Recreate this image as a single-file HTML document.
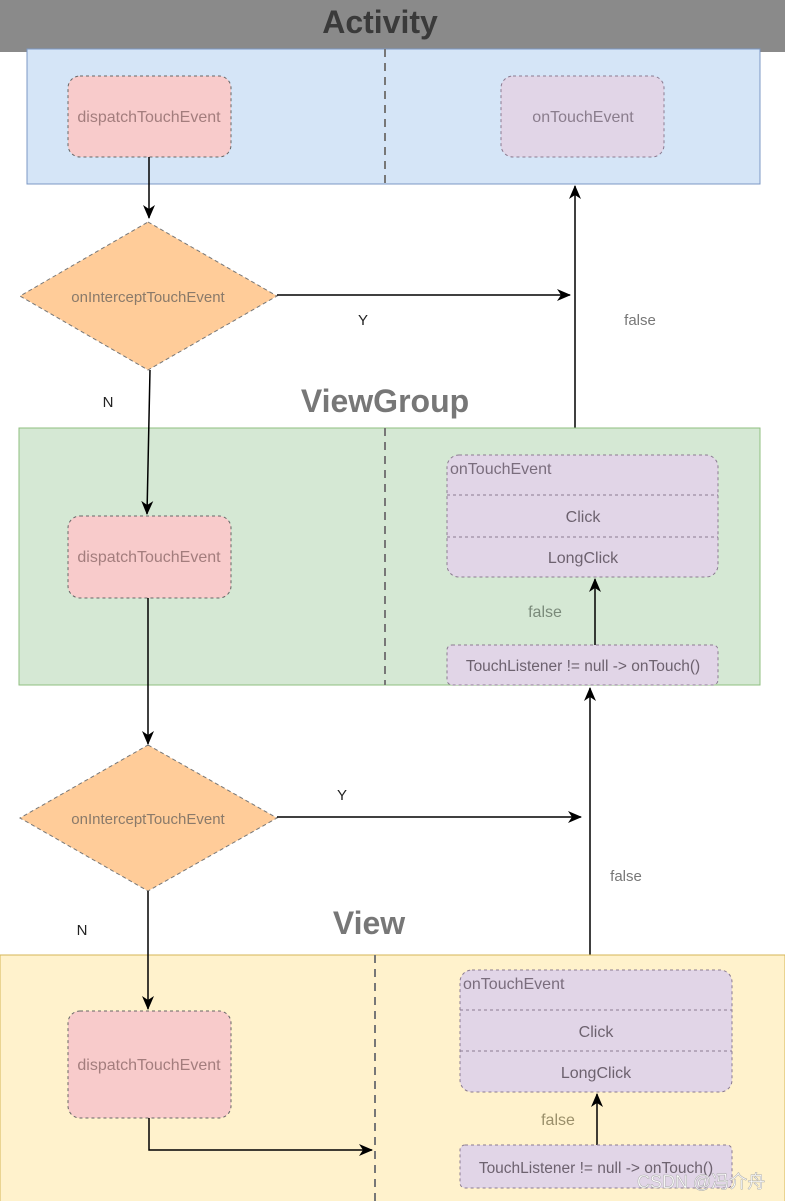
<!DOCTYPE html>
<html><head><meta charset="utf-8"><style>
html,body{margin:0;padding:0;background:#fff;}
svg{display:block;}
text{font-family:"Liberation Sans","Noto Sans CJK SC",sans-serif;}
</style></head><body>
<svg width="785" height="1201" viewBox="0 0 785 1201" xmlns="http://www.w3.org/2000/svg">
<defs>
<marker id="a" markerWidth="14" markerHeight="14" refX="13" refY="7" orient="auto" markerUnits="userSpaceOnUse">
<path d="M0,1 L14,7 L0,13 L4,7 Z" fill="#000"/></marker>
</defs>
<rect x="0" y="0" width="785" height="52" fill="#8a8a8a"/>
<text x="380" y="33" font-size="32" font-weight="bold" fill="#3a3a3a" text-anchor="middle">Activity</text>
<rect x="27" y="49" width="733" height="135" fill="#d5e5f7" stroke="#7c98c4"/>
<line x1="385" y1="49" x2="385" y2="184" stroke="#777" stroke-width="2" stroke-dasharray="8,6"/>
<rect x="68" y="76" width="163" height="81" rx="12" fill="#f8cbcb" stroke="#666" stroke-dasharray="3,3"/>
<text x="149" y="122" font-size="16" fill="#a37d7d" text-anchor="middle">dispatchTouchEvent</text>
<rect x="501" y="76" width="163" height="81" rx="12" fill="#e1d5e7" stroke="#8a7a90" stroke-dasharray="3,3"/>
<text x="583" y="122" font-size="16" fill="#8a7d8d" text-anchor="middle">onTouchEvent</text>
<line x1="149" y1="157" x2="149" y2="218" stroke="#000" stroke-width="1.5" marker-end="url(#a)"/>
<polygon points="148,222 277,296 148,370 20,296" fill="#ffcc99" stroke="#777" stroke-dasharray="4,3"/>
<text x="148" y="302" font-size="15" fill="#8a7a6a" text-anchor="middle">onInterceptTouchEvent</text>
<line x1="277" y1="295" x2="570" y2="295" stroke="#000" stroke-width="1.5" marker-end="url(#a)"/>
<text x="363" y="325" font-size="15" fill="#222" text-anchor="middle">Y</text>
<line x1="575" y1="428" x2="575" y2="186" stroke="#000" stroke-width="1.5" marker-end="url(#a)"/>
<text x="640" y="325" font-size="15" fill="#777" text-anchor="middle">false</text>
<text x="108" y="407" font-size="15" fill="#222" text-anchor="middle">N</text>
<text x="385" y="412" font-size="32" font-weight="bold" fill="#777" text-anchor="middle">ViewGroup</text>
<rect x="19" y="428" width="741" height="257" fill="#d5e8d4" stroke="#8fbf7f"/>
<line x1="385" y1="428" x2="385" y2="685" stroke="#777" stroke-width="2" stroke-dasharray="8,6"/>
<rect x="68" y="516" width="163" height="82" rx="12" fill="#f8cbcb" stroke="#666" stroke-dasharray="3,3"/>
<text x="149" y="562" font-size="16" fill="#a37d7d" text-anchor="middle">dispatchTouchEvent</text>
<rect x="447" y="455" width="271" height="122" rx="12" fill="#e1d5e7" stroke="#8a7a90" stroke-dasharray="3,3"/>
<line x1="447" y1="495" x2="718" y2="495" stroke="#8a7a90" stroke-dasharray="3,3"/>
<line x1="447" y1="537" x2="718" y2="537" stroke="#8a7a90" stroke-dasharray="3,3"/>
<text x="450" y="474" font-size="16" fill="#7a6d7d">onTouchEvent</text>
<text x="583" y="522" font-size="16" fill="#6d626f" text-anchor="middle">Click</text>
<text x="583" y="563" font-size="16" fill="#6d626f" text-anchor="middle">LongClick</text>
<line x1="595" y1="645" x2="595" y2="579" stroke="#000" stroke-width="1.5" marker-end="url(#a)"/>
<text x="545" y="617" font-size="16" fill="#7a8a7a" text-anchor="middle">false</text>
<rect x="447" y="645" width="271" height="40" rx="5" fill="#e1d5e7" stroke="#8a7a90" stroke-dasharray="3,3"/>
<text x="583" y="671" font-size="15.5" fill="#6d626f" text-anchor="middle">TouchListener != null -&gt; onTouch()</text>
<line x1="148" y1="598" x2="148" y2="744" stroke="#000" stroke-width="1.5" marker-end="url(#a)"/>
<polygon points="148,745 277,818 148,891 20,818" fill="#ffcc99" stroke="#777" stroke-dasharray="4,3"/>
<text x="148" y="824" font-size="15" fill="#8a7a6a" text-anchor="middle">onInterceptTouchEvent</text>
<line x1="277" y1="817" x2="581" y2="817" stroke="#000" stroke-width="1.5" marker-end="url(#a)"/>
<text x="342" y="800" font-size="15" fill="#222" text-anchor="middle">Y</text>
<line x1="590" y1="955" x2="590" y2="688" stroke="#000" stroke-width="1.5" marker-end="url(#a)"/>
<text x="626" y="881" font-size="15" fill="#777" text-anchor="middle">false</text>
<text x="82" y="935" font-size="15" fill="#222" text-anchor="middle">N</text>
<text x="369" y="934" font-size="32" font-weight="bold" fill="#777" text-anchor="middle">View</text>
<rect x="0" y="955" width="785" height="250" fill="#fff2cc" stroke="#d6b656"/>
<line x1="375" y1="955" x2="375" y2="1201" stroke="#777" stroke-width="2" stroke-dasharray="8,6"/>
<rect x="68" y="1011" width="163" height="107" rx="12" fill="#f8cbcb" stroke="#666" stroke-dasharray="3,3"/>
<text x="149" y="1070" font-size="16" fill="#a37d7d" text-anchor="middle">dispatchTouchEvent</text>
<polyline points="149,1118 149,1150 372,1150" fill="none" stroke="#000" stroke-width="1.5" marker-end="url(#a)"/>
<rect x="460" y="970" width="272" height="122" rx="12" fill="#e1d5e7" stroke="#8a7a90" stroke-dasharray="3,3"/>
<line x1="460" y1="1010" x2="732" y2="1010" stroke="#8a7a90" stroke-dasharray="3,3"/>
<line x1="460" y1="1051" x2="732" y2="1051" stroke="#8a7a90" stroke-dasharray="3,3"/>
<text x="463" y="989" font-size="16" fill="#7a6d7d">onTouchEvent</text>
<text x="596" y="1037" font-size="16" fill="#6d626f" text-anchor="middle">Click</text>
<text x="596" y="1078" font-size="16" fill="#6d626f" text-anchor="middle">LongClick</text>
<line x1="597" y1="1145" x2="597" y2="1094" stroke="#000" stroke-width="1.5" marker-end="url(#a)"/>
<text x="558" y="1125" font-size="16" fill="#9a8f6a" text-anchor="middle">false</text>
<rect x="460" y="1145" width="272" height="43" rx="5" fill="#e1d5e7" stroke="#8a7a90" stroke-dasharray="3,3"/>
<text x="596" y="1173" font-size="15.5" fill="#6d626f" text-anchor="middle">TouchListener != null -&gt; onTouch()</text>
<line x1="150" y1="370" x2="147" y2="514" stroke="#000" stroke-width="1.5" marker-end="url(#a)"/>
<line x1="148" y1="891" x2="148" y2="1009" stroke="#000" stroke-width="1.5" marker-end="url(#a)"/>
<text x="637" y="1188" font-size="18" fill="#fff" stroke="#aaa" stroke-width="0.5">CSDN @冯介舟</text>
</svg>
</body></html>
